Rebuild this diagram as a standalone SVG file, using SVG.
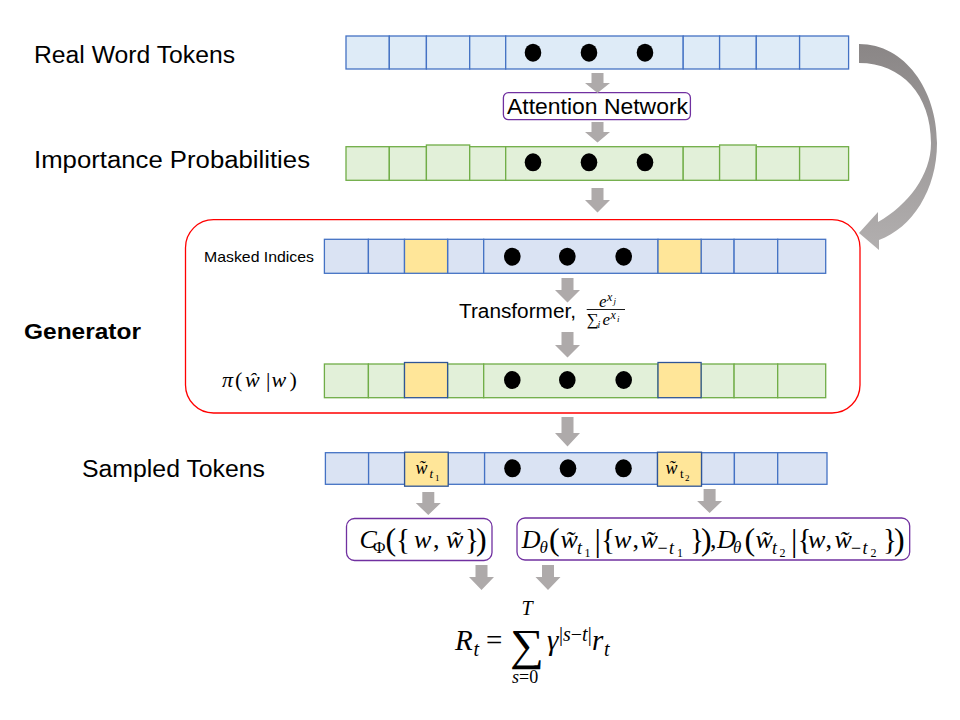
<svg xmlns="http://www.w3.org/2000/svg" width="960" height="720" viewBox="0 0 960 720">
<defs>
<style>
.lbl{font-family:"Liberation Sans",Arial,sans-serif;fill:#000}
.m{font-family:"Liberation Serif","DejaVu Serif",serif;fill:#000}
.i{font-style:italic}
.cb{fill:#DEEBF7;stroke:#4472C4;stroke-width:1.3}
.cb2{fill:#DAE3F3;stroke:#4472C4;stroke-width:1.3}
.cg{fill:#E2F0D9;stroke:#70AD47;stroke-width:1.3}
.cy{fill:#FFE699;stroke:#2F5597;stroke-width:1.3}
.box{fill:#fff;stroke:#7030A0;stroke-width:1.3}
.arr{fill:#AEAAAA}
</style>
<linearGradient id="cg1" x1="0" y1="0" x2="0" y2="1">
<stop offset="0" stop-color="#8A8686"/>
<stop offset="1" stop-color="#B2AFAF"/>
</linearGradient>
</defs>
<rect width="960" height="720" fill="#fff"/>

<g id="labels">
<text class="lbl" x="34" y="63" font-size="23" textLength="201" lengthAdjust="spacingAndGlyphs">Real Word Tokens</text>
<text class="lbl" x="34" y="168" font-size="23" textLength="276" lengthAdjust="spacingAndGlyphs">Importance Probabilities</text>
<text class="lbl" x="24" y="339" font-size="22" font-weight="bold" textLength="117" lengthAdjust="spacingAndGlyphs">Generator</text>
<text class="lbl" x="82" y="476.5" font-size="23" textLength="183" lengthAdjust="spacingAndGlyphs">Sampled Tokens</text>
</g>

<g id="real-word-tokens">
<rect class="cb" x="346" y="36" width="43.3" height="33"/>
<rect class="cb" x="389.3" y="36" width="37.1" height="33"/>
<rect class="cb" x="426.4" y="36" width="43.3" height="33"/>
<rect class="cb" x="469.7" y="36" width="36" height="33"/>
<rect class="cb" x="505.7" y="36" width="177.5" height="33"/>
<rect class="cb" x="683.2" y="36" width="36.4" height="33"/>
<rect class="cb" x="719.6" y="36" width="36.7" height="33"/>
<rect class="cb" x="756.3" y="36" width="43.3" height="33"/>
<rect class="cb" x="799.6" y="36" width="49" height="33"/>
<ellipse cx="533" cy="52.7" rx="8.3" ry="9"/>
<ellipse cx="589" cy="52.7" rx="8.3" ry="9"/>
<ellipse cx="645" cy="52.7" rx="8.3" ry="9"/>
</g>

<g id="attention-network">
<rect class="box" x="503.4" y="92.7" width="187" height="27" rx="5"/>
<text class="lbl" x="507" y="113.5" font-size="21.5" textLength="181" lengthAdjust="spacingAndGlyphs">Attention Network</text>
</g>

<g id="importance-probabilities">
<rect class="cg" x="346" y="146.7" width="43.3" height="33.6"/>
<rect class="cg" x="389.3" y="146.7" width="37.1" height="33.6"/>
<rect class="cg" x="426.4" y="145" width="43.3" height="35.3"/>
<rect class="cg" x="469.7" y="146.7" width="36" height="33.6"/>
<rect class="cg" x="505.7" y="146.7" width="177.5" height="33.6"/>
<rect class="cg" x="683.2" y="146.7" width="36.4" height="33.6"/>
<rect class="cg" x="719.6" y="145" width="36.7" height="35.3"/>
<rect class="cg" x="756.3" y="146.7" width="43.3" height="33.6"/>
<rect class="cg" x="799.6" y="146.7" width="49" height="33.6"/>
<ellipse cx="533" cy="162.3" rx="8.3" ry="9"/>
<ellipse cx="589" cy="162.3" rx="8.3" ry="9"/>
<ellipse cx="645" cy="162.3" rx="8.3" ry="9"/>
</g>

<g id="generator">
<rect x="185.5" y="219.7" width="674.5" height="193.3" rx="28" fill="none" stroke="#FF0000" stroke-width="1.3"/>
</g>

<g id="masked-indices">
<text class="lbl" x="204" y="262" font-size="15" textLength="110" lengthAdjust="spacingAndGlyphs">Masked Indices</text>
<rect class="cb2" x="324.4" y="239.3" width="44" height="34"/>
<rect class="cb2" x="368.4" y="239.3" width="36.1" height="34"/>
<rect class="cb2" x="447.6" y="239.3" width="36.1" height="34"/>
<rect class="cb2" x="483.7" y="239.3" width="174.3" height="34"/>
<rect class="cb2" x="701.1" y="239.3" width="33" height="34"/>
<rect class="cb2" x="734.1" y="239.3" width="43.6" height="34"/>
<rect class="cb2" x="777.7" y="239.3" width="48" height="34"/>
<rect class="cy" x="404.5" y="239.3" width="43.1" height="34" style="stroke:#4472C4"/>
<rect class="cy" x="658" y="239.3" width="43.1" height="34" style="stroke:#4472C4"/>
<ellipse cx="512.3" cy="256.7" rx="8.3" ry="9"/>
<ellipse cx="567.3" cy="256.7" rx="8.3" ry="9"/>
<ellipse cx="623.7" cy="256.7" rx="8.3" ry="9"/>
</g>

<g id="transformer">
<text class="lbl" x="459" y="318" font-size="20" textLength="117" lengthAdjust="spacingAndGlyphs">Transformer,</text>
<text class="m i" x="599" y="306.5" font-size="17">e</text>
<text class="m i" x="607" y="300.5" font-size="12">x</text>
<text class="m i" x="613.5" y="303.5" font-size="9">j</text>
<line x1="586.7" y1="309.5" x2="625" y2="309.5" stroke="#000" stroke-width="0.9"/>
<text class="m" x="586.5" y="325" font-size="17">∑</text>
<text class="m i" x="597.5" y="328" font-size="10">i</text>
<text class="m i" x="602.5" y="325" font-size="17">e</text>
<text class="m i" x="610.5" y="319" font-size="12">x</text>
<text class="m i" x="617" y="322" font-size="9">i</text>
</g>

<g id="policy">
<text class="m" x="222" y="386.7" font-size="22"><tspan class="i">π</tspan><tspan x="235">(</tspan><tspan x="245" class="i">ŵ</tspan><tspan x="266">|</tspan><tspan x="271.5" class="i">w</tspan><tspan x="289.5">)</tspan></text>
<rect class="cg" x="324.4" y="364" width="44" height="33.7"/>
<rect class="cg" x="368.4" y="364" width="36.1" height="33.7"/>
<rect class="cg" x="447.6" y="364" width="36.1" height="33.7"/>
<rect class="cg" x="483.7" y="364" width="174.3" height="33.7"/>
<rect class="cg" x="701.1" y="364" width="33" height="33.7"/>
<rect class="cg" x="734.1" y="364" width="43.6" height="33.7"/>
<rect class="cg" x="777.7" y="364" width="48" height="33.7"/>
<rect class="cy" x="404.5" y="362.5" width="43.1" height="35.2"/>
<rect class="cy" x="658" y="362.5" width="43.1" height="35.2"/>
<ellipse cx="512.3" cy="380" rx="8.3" ry="9"/>
<ellipse cx="567.3" cy="380" rx="8.3" ry="9"/>
<ellipse cx="623.7" cy="380" rx="8.3" ry="9"/>
</g>

<g id="sampled-tokens">
<rect class="cb2" x="325.4" y="452.7" width="43.2" height="31.6"/>
<rect class="cb2" x="368.6" y="452.7" width="36" height="31.6"/>
<rect class="cb2" x="448.2" y="452.7" width="36.4" height="31.6"/>
<rect class="cb2" x="484.6" y="452.7" width="172.9" height="31.6"/>
<rect class="cb2" x="701.5" y="452.7" width="32.9" height="31.6"/>
<rect class="cb2" x="734.4" y="452.7" width="43.3" height="31.6"/>
<rect class="cb2" x="777.7" y="452.7" width="49.3" height="31.6"/>
<rect class="cy" x="404.6" y="452.2" width="43.6" height="34"/>
<rect class="cy" x="657.5" y="452.2" width="44" height="34"/>
<ellipse cx="512.5" cy="468.3" rx="8.3" ry="9"/>
<ellipse cx="568" cy="468.3" rx="8.3" ry="9"/>
<ellipse cx="623.5" cy="468.3" rx="8.3" ry="9"/>
<text class="m i" x="415.5" y="473.5" font-size="18">w̃</text>
<text class="m i" x="429.5" y="478" font-size="13">t</text>
<text class="m" x="435" y="481" font-size="9">1</text>
<text class="m i" x="665.5" y="473.5" font-size="18">w̃</text>
<text class="m" x="680" y="478" font-size="13">t</text>
<text class="m" x="685" y="481" font-size="9">2</text>
</g>

<g id="classifier">
<rect class="box" x="346.5" y="518.5" width="145.5" height="42" rx="8"/>
<text class="m" y="548" font-size="26"><tspan x="359.5" class="i">C</tspan><tspan x="373" y="553" font-size="17">Φ</tspan><tspan x="385.5" y="550" font-size="32">(</tspan><tspan x="396" y="549" font-size="29">{</tspan><tspan x="414" y="548" class="i">w</tspan><tspan x="433">,</tspan><tspan x="446" class="i">w̃</tspan><tspan x="465" y="549" font-size="29">}</tspan><tspan x="476" y="550" font-size="32">)</tspan></text>
</g>

<g id="discriminator">
<rect class="box" x="517" y="518" width="392.7" height="42" rx="8"/>
<text class="m" y="548" font-size="26"><tspan x="521.7" class="i">D</tspan><tspan x="539.5" y="553" font-size="17" class="i">θ</tspan><tspan x="549" y="550" font-size="32">(</tspan><tspan x="560.5" y="548" class="i">w̃</tspan><tspan x="577" y="554" font-size="18" class="i">t</tspan><tspan x="584.5" y="557" font-size="12">1</tspan><tspan x="594.5" y="551" font-size="32">|</tspan><tspan x="601" y="549" font-size="29">{</tspan><tspan x="614" y="548" class="i">w</tspan><tspan x="632.5">,</tspan><tspan x="640.5" class="i">w̃</tspan><tspan x="657.5" y="554" font-size="18">−</tspan><tspan x="669" y="554" font-size="18" class="i">t</tspan><tspan x="677" y="557" font-size="12">1</tspan><tspan x="690" y="549" font-size="29">}</tspan><tspan x="701" y="550" font-size="32">)</tspan><tspan x="710" y="548">,</tspan><tspan x="717" class="i">D</tspan><tspan x="733" y="553" font-size="17" class="i">θ</tspan><tspan x="744.5" y="550" font-size="32">(</tspan><tspan x="755.5" y="548" class="i">w̃</tspan><tspan x="772" y="554" font-size="18" class="i">t</tspan><tspan x="779.5" y="557" font-size="12">2</tspan><tspan x="791" y="551" font-size="32">|</tspan><tspan x="797.5" y="549" font-size="29">{</tspan><tspan x="808" y="548" class="i">w</tspan><tspan x="825.5">,</tspan><tspan x="834.5" class="i">w̃</tspan><tspan x="851" y="554" font-size="18">−</tspan><tspan x="862.5" y="554" font-size="18" class="i">t</tspan><tspan x="870.5" y="557" font-size="12">2</tspan><tspan x="883" y="549" font-size="29">}</tspan><tspan x="894" y="550" font-size="32">)</tspan></text>
</g>

<g id="reward">
<text class="m i" x="455" y="650" font-size="29">R</text>
<text class="m i" x="473.5" y="656" font-size="20">t</text>
<text class="m" x="486" y="650" font-size="29">=</text>
<text class="m" font-size="44" transform="translate(510,660) scale(1.08,1)">∑</text>
<text class="m i" x="521.5" y="614.5" font-size="20">T</text>
<text class="m" x="512" y="683" font-size="18"><tspan class="i">s</tspan>=0</text>
<text class="m i" x="547" y="650" font-size="29">γ</text>
<text class="m" x="559" y="640.5" font-size="20">|<tspan class="i">s</tspan>−<tspan class="i">t</tspan>|</text>
<text class="m i" x="592" y="650" font-size="29">r</text>
<text class="m i" x="604" y="656" font-size="20">t</text>
</g>

<g id="connectors">
<polygon class="arr" points="591.5,73 603.5,73 603.5,83 610,83 597.5,93 585,83 591.5,83"/>
<polygon class="arr" points="591.5,122 603.5,122 603.5,132 610,132 597.5,142.5 585,132 591.5,132"/>
<polygon class="arr" points="591.5,188 603.5,188 603.5,200 610,200 597.5,212.5 585,200 591.5,200"/>
<polygon class="arr" points="561.5,278 573.5,278 573.5,290 580,290 567.5,302.5 555,290 561.5,290"/>
<polygon class="arr" points="561.5,332 573.5,332 573.5,345 580,345 567.5,357.5 555,345 561.5,345"/>
<polygon class="arr" points="561.5,417 573.5,417 573.5,433 580,433 567.5,446.5 555,433 561.5,433"/>
<polygon class="arr" points="422.3,492 434.3,492 434.3,503 440.8,503 428.3,515 415.8,503 422.3,503"/>
<polygon class="arr" points="703.6,489 715.6,489 715.6,501 722.1,501 709.6,513 697.1,501 703.6,501"/>
<polygon class="arr" points="475.5,565 487.5,565 487.5,577 494,577 481.5,590 469,577 475.5,577"/>
<polygon class="arr" points="542,565 554,565 554,577 560.5,577 548,590 535.5,577 542,577"/>
<path fill="url(#cg1)" d="M859,44 C905,44 937,90 937,143 C937,190 912,228 879,240 L879,250 L859,233 L878,212 L878,222 C908,205 931,175 931,143 C931,95 902,63 859,63 Z"/>
</g>
</svg>
